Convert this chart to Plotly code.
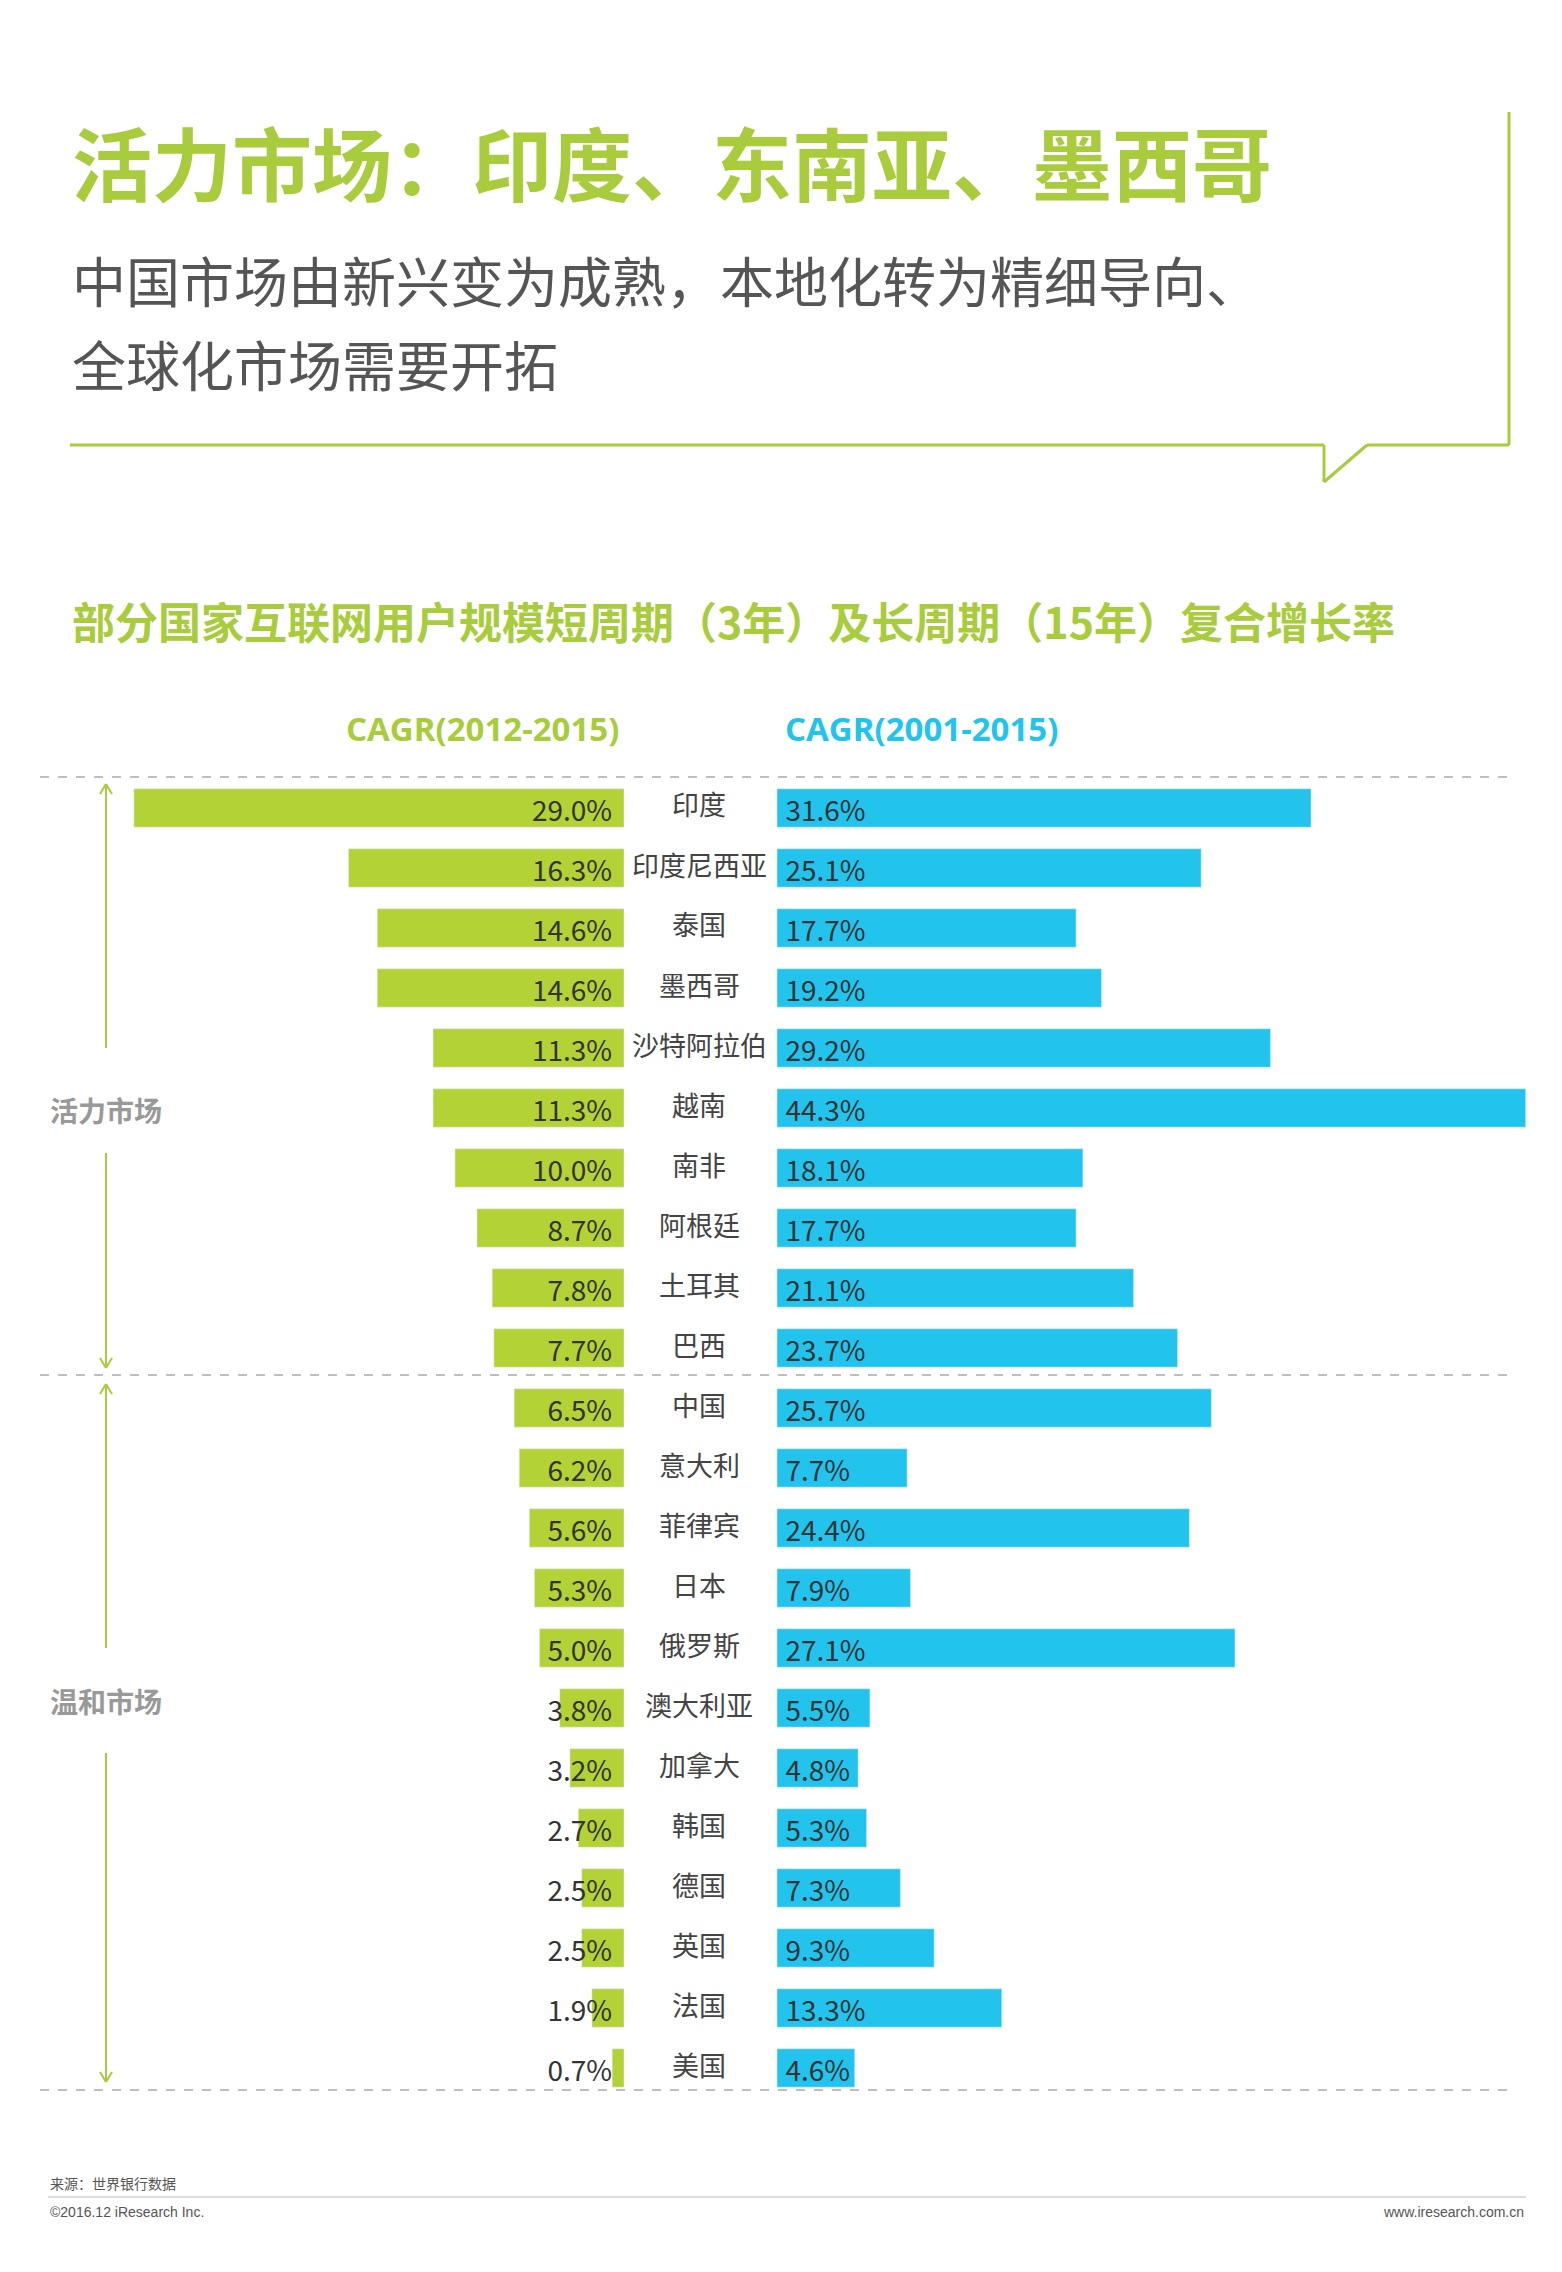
import plotly.graph_objects as go

countries = ["印度","印度尼西亚","泰国","墨西哥","沙特阿拉伯","越南","南非","阿根廷","土耳其","巴西",
             "中国","意大利","菲律宾","日本","俄罗斯","澳大利亚","加拿大","韩国","德国","英国","法国","美国"]
cagr_short = [29.0,16.3,14.6,14.6,11.3,11.3,10.0,8.7,7.8,7.7,6.5,6.2,5.6,5.3,5.0,3.8,3.2,2.7,2.5,2.5,1.9,0.7]
cagr_long = [31.6,25.1,17.7,19.2,29.2,44.3,18.1,17.7,21.1,23.7,25.7,7.7,24.4,7.9,27.1,5.5,4.8,5.3,7.3,9.3,13.3,4.6]

W, H = 1562, 2272
GREEN = "#b3d235"; BLUE = "#22c4ee"; LINE = "#a8cc3c"
FONT = "Noto Sans CJK SC"
idx = list(range(len(countries)))
px_per = 16.9
row0, rowh = 800, 60

fig = go.Figure()
fig.add_bar(y=idx, x=cagr_short, orientation="h", marker_color=GREEN, width=0.64,
            xaxis="x", yaxis="y", hoverinfo="skip")
fig.add_bar(y=idx, x=cagr_long, orientation="h", marker_color=BLUE, width=0.64,
            xaxis="x2", yaxis="y", hoverinfo="skip")
fig.add_scatter(y=[i+0.1 for i in idx], x=[0.7]*len(idx), mode="text", xaxis="x", yaxis="y",
                text=[f"{v:.1f}%" for v in cagr_short], textposition="middle left",
                textfont=dict(size=28, color="#333", family=FONT), hoverinfo="skip")
fig.add_scatter(y=[i+0.1 for i in idx], x=[0.5]*len(idx), mode="text", xaxis="x2", yaxis="y",
                text=[f"{v:.1f}%" for v in cagr_long], textposition="middle right",
                textfont=dict(size=28, color="#333", family=FONT), hoverinfo="skip")

gx = 616/W
fig.update_layout(
    width=W, height=H, margin=dict(l=0, r=0, t=0, b=0), showlegend=False,
    paper_bgcolor="white", plot_bgcolor="rgba(0,0,0,0)", barmode="overlay",
    xaxis=dict(domain=[0, gx], range=[616/px_per, 0], visible=False, fixedrange=True),
    xaxis2=dict(domain=[769/W, 1], range=[0, (W-769)/px_per], visible=False, fixedrange=True),
    yaxis=dict(domain=[0, 1], range=[(H-row0)/rowh, -row0/rowh], visible=False),
)

def ann(x, y, text, size, color, bold=False, xanchor="left", family=FONT):
    if bold:
        text = f"<b>{text}</b>"
    fig.add_annotation(x=x/W, y=1-y/H, xref="paper", yref="paper", text=text, showarrow=False,
                       xanchor=xanchor, yanchor="middle", font=dict(size=size, color=color, family=family))

ann(62, 152, "活力市场：印度、东南亚、墨西哥", 80, "#a8cc3c", bold=True)
ann(62, 272, "中国市场由新兴变为成熟，本地化转为精细导向、", 54, "#555")
ann(62, 355, "全球化市场需要开拓", 54, "#555")
ann(62, 612, "部分国家互联网用户规模短周期（3年）及长周期（15年）复合增长率", 43, "#a8cc3c", bold=True)
ann(474, 720, "CAGR(2012-2015)", 33, "#a8cc3c", bold=True, xanchor="center", family="Open Sans")
ann(914, 720, "CAGR(2001-2015)", 33, BLUE, bold=True, xanchor="center", family="Open Sans")
for i, c in enumerate(countries):
    ann(691, row0 + rowh*i - 4, c, 27, "#444", xanchor="center")
ann(40, 1102, "活力市场", 28, "#999", bold=True)
ann(40, 1693, "温和市场", 28, "#999", bold=True)
ann(40, 2175, "来源：世界银行数据", 14, "#555")
ann(40, 2204, "©2016.12 iResearch Inc.", 14, "#555", family="Arial")
ann(1518, 2204, "www.iresearch.com.cn", 14, "#555", xanchor="right", family="Arial")

def line(x0, y0, x1, y1, color, width=3, dash=None):
    fig.add_shape(type="line", xref="paper", yref="paper", x0=x0/W, x1=x1/W, y0=1-y0/H, y1=1-y1/H,
                  line=dict(color=color, width=width, dash=dash))

# speech bubble frame
line(62, 437, 1316, 437, LINE)
line(1316, 437, 1316, 474, LINE)
line(1316, 474, 1359, 437, LINE)
line(1359, 437, 1501, 437, LINE)
line(1501, 437, 1501, 104, LINE)
# dashed separators
for y in (769, 1367, 2082):
    line(32, y, 1507, y, "#aaa", width=1.5, dash="dash")
# arrows
for (y0, y1) in ((776, 1040), (1145, 1360)):
    line(98, y0, 98, y1, LINE, width=2)
for (y0, y1) in ((1376, 1640), (1745, 2074)):
    line(98, y0, 98, y1, LINE, width=2)
for y in (776, 1376):
    line(92, y+10, 98, y, LINE, width=2); line(104, y+10, 98, y, LINE, width=2)
for y in (1360, 2074):
    line(92, y-10, 98, y, LINE, width=2); line(104, y-10, 98, y, LINE, width=2)
line(40, 2189, 1518, 2189, "#bbb", width=1)

fig.write_html("out.html")
